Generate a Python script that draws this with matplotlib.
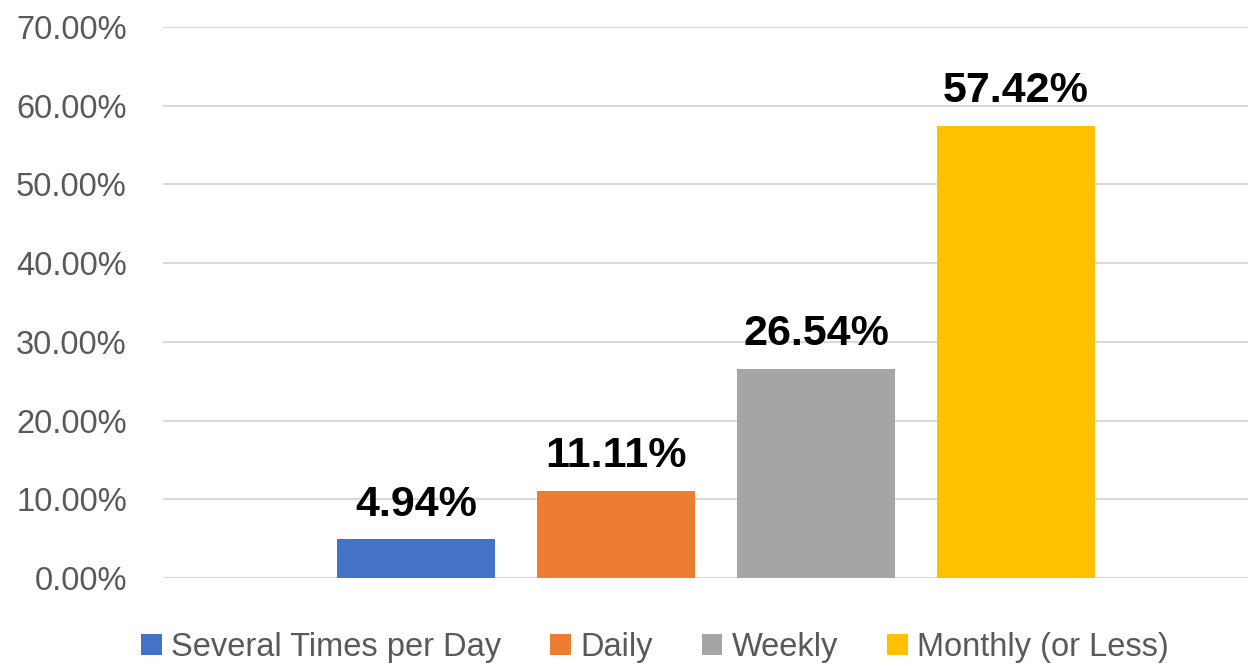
import matplotlib.pyplot as plt
from matplotlib.patches import Patch

categories = ["Several Times per Day", "Daily", "Weekly", "Monthly (or Less)"]
values = [0.0494, 0.1111, 0.2654, 0.5742]
labels = ["4.94%", "11.11%", "26.54%", "57.42%"]
colors = ["#4472C4", "#ED7D31", "#A5A5A5", "#FFC000"]
yticks = [0.0, 0.1, 0.2, 0.3, 0.4, 0.5, 0.6, 0.7]

plt.rcParams['font.family'] = ['Liberation Sans', 'DejaVu Sans']

fig = plt.figure(figsize=(12.48, 6.66), dpi=100)
ax = fig.add_axes([163 / 1248, 1 - 578 / 666, 1 - 163 / 1248, (578 - 27) / 666])

x = list(range(len(values)))
ax.bar(x, values, width=0.79, color=colors, zorder=3)
for xi, v, lab in zip(x, values, labels):
    ax.annotate(lab, (xi, v), xytext=(0, 17), textcoords='offset points',
                ha='center', va='baseline', fontsize=31, fontweight='bold',
                color='black')

ax.set_xlim(-1.265, 4.16)
ax.set_ylim(0, 0.70)
ax.set_yticks(yticks)
ax.set_yticklabels([f"{t * 100:.2f}%" for t in yticks], fontsize=23.5, color='#595959')
ax.set_xticks([])
ax.tick_params(axis='y', length=0, pad=26)
ax.grid(axis='y', color='#D9D9D9', linewidth=1.5, zorder=0)
for s in ax.spines.values():
    s.set_visible(False)

handles = [Patch(facecolor=c) for c in colors]
leg = fig.legend(handles, categories, loc='lower center', ncol=4, frameon=False,
                 fontsize=23.5, bbox_to_anchor=(0.525, -0.04), handlelength=0.62,
                 handleheight=0.62, handletextpad=0.3, columnspacing=1.5)
for t in leg.get_texts():
    t.set_color('#595959')

fig.savefig("out.png", dpi=100)
